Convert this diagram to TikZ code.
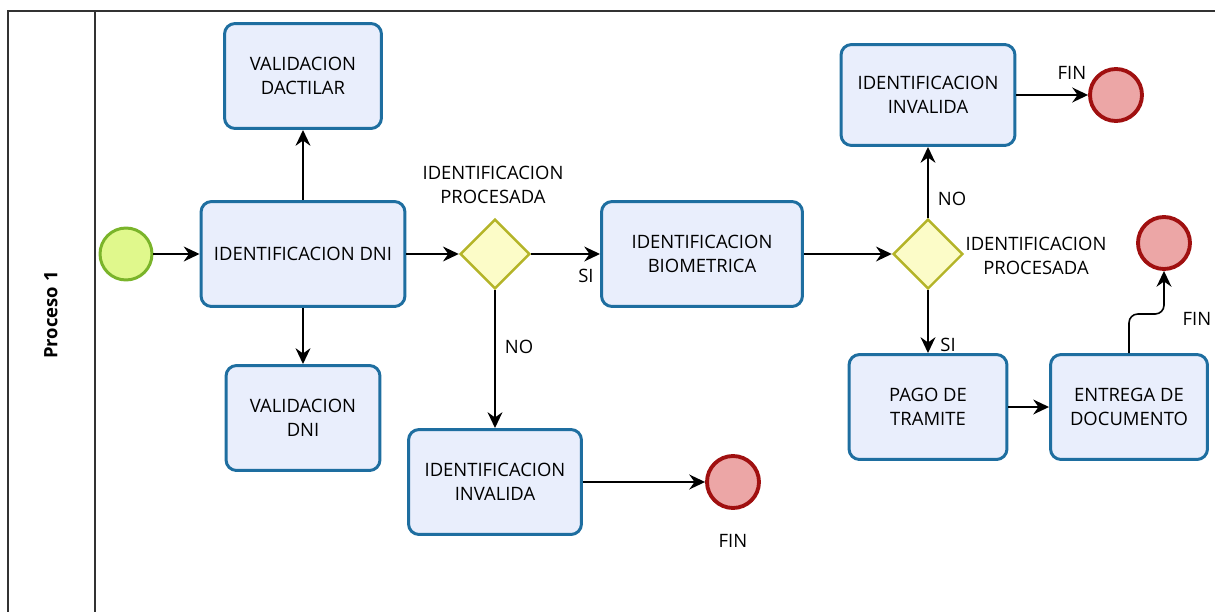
\documentclass[tikz,border=0pt]{standalone}
\usepackage{fontspec}
\setmainfont{Open Sans}
\usetikzlibrary{positioning,shapes.geometric,arrows.meta}
\tikzset{>={Stealth[length=9pt,width=8.5pt,inset=3pt]}}

\definecolor{taskline}{RGB}{30,110,160}
\definecolor{taskfill}{RGB}{233,238,252}
\definecolor{startline}{RGB}{122,180,42}
\definecolor{startfill}{RGB}{224,248,140}
\definecolor{endline}{RGB}{160,16,16}
\definecolor{endfill}{RGB}{236,166,166}
\definecolor{gateline}{RGB}{180,180,40}
\definecolor{gatefill}{RGB}{252,252,200}
\definecolor{frameline}{RGB}{50,50,50}

\tikzset{
  txt/.style={font=\fontsize{10.5}{14}\selectfont,align=center,inner sep=0pt},
  task/.style={txt,draw=taskline,fill=taskfill,line width=1.7pt,rounded corners=6pt,
    minimum width=3.14cm,minimum height=2.1cm},
  gate/.style={diamond,draw=gateline,fill=gatefill,line width=1.4pt,
    minimum width=1.4cm,minimum height=1.4cm,inner sep=0pt},
  startev/.style={circle,draw=startline,fill=startfill,line width=1.7pt,minimum size=1.04cm,inner sep=0pt},
  endev/.style={circle,draw=endline,fill=endfill,line width=2.2pt,minimum size=1.04cm,inner sep=0pt},
  flow/.style={->,line width=0.9pt}
}

\begin{document}
\begin{tikzpicture}[x=0.02cm,y=-0.02cm]
% Pixel grid, origin top left
\useasboundingbox (0,0) rectangle (1215,612);

% Draw pool and lane
\draw[frameline,line width=1.2pt] (1215,11) -- (8,11) -- (8,612);
\draw[frameline,line width=1.2pt] (95,11) -- (95,612);
\node[txt,font=\fontsize{10.5}{14}\selectfont\bfseries,rotate=90] (lane) at (51,315) {Proceso 1};

% Tasks
\node[task] (dni) at (303,254) [minimum width=4.08cm] {IDENTIFICACION DNI};
\node[task] (dactilar) at (303,76) {VALIDACION\\DACTILAR};
\node[task] (valdni) at (303,418) [minimum width=3.08cm] {VALIDACION\\DNI};
\node[task] (biom) at (702,254) [minimum width=4.02cm] {IDENTIFICACION\\BIOMETRICA};
\node[task] (invA) at (495,482) [minimum width=3.46cm] {IDENTIFICACION\\INVALIDA};
\node[task] (invB) at (928,95) [minimum width=3.48cm,minimum height=2.02cm] {IDENTIFICACION\\INVALIDA};
\node[task] (pago) at (928,407) [minimum width=3.16cm] {PAGO DE\\TRAMITE};
\node[task] (entrega) at (1129,407) {ENTREGA DE\\DOCUMENTO};

% Events and gateways
\node[startev] (inicio) at (126,254) {};
\node[gate] (gateA) at (495,254) {};
\node[gate] (gateB) at (928,254) {};
\node[endev] (finA) at (733,482) {};
\node[endev] (finB) at (1116,95) {};
\node[endev] (finC) at (1164,243) {};

% Labels
\node[txt] (lblA) at (493,185) {IDENTIFICACION\\PROCESADA};
\node[txt] (lblB) at (1036,256) {IDENTIFICACION\\PROCESADA};
\node[txt] (siA) at (586,276) {SI};
\node[txt] (noA) at (519,347) {NO};
\node[txt] (noB) at (952,199) {NO};
\node[txt] (siB) at (948,345) {SI};
\node[txt] (finlblA) at (733,541) {FIN};
\node[txt] (finlblB) at (1072,73) {FIN};
\node[txt] (finlblC) at (1197,319) {FIN};

% Sequence flows
\draw[flow] (inicio) -- (dni);
\draw[flow] (dni) -- (dactilar);
\draw[flow] (dni) -- (valdni);
\draw[flow] (dni) -- (gateA);
\draw[flow] (gateA) -- (biom);
\draw[flow] (gateA) -- (invA);
\draw[flow] (invA) -- (finA);
\draw[flow] (biom) -- (gateB);
\draw[flow] (gateB) -- (invB);
\draw[flow] (invB) -- (finB);
\draw[flow] (gateB) -- (pago);
\draw[flow] (pago) -- (entrega);

% Entrega to FIN with a small jog
\coordinate (jog) at (1147,314);
\draw[flow,rounded corners=5pt] (entrega.north) -- (entrega.north |- jog) -- (finC.south |- jog) -- (finC.south);
\end{tikzpicture}
\end{document}
